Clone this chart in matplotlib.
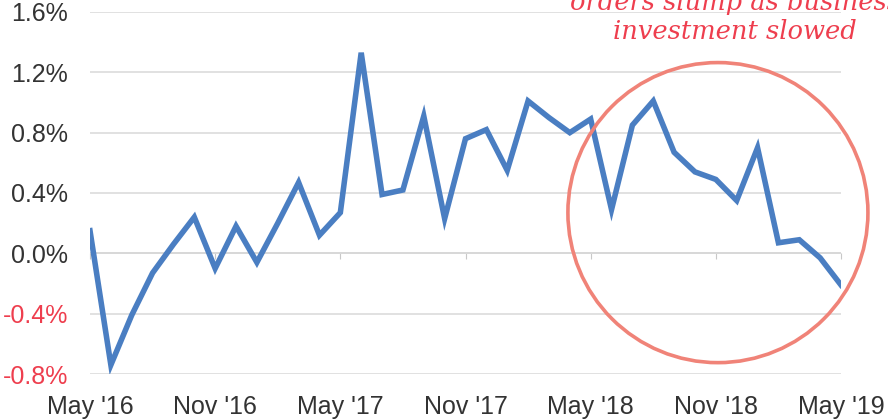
import numpy as np
import matplotlib.pyplot as plt
from matplotlib.patches import Ellipse

# monthly % change, May 2016 .. May 2019
months = ["May '16", "Jun '16", "Jul '16", "Aug '16", "Sep '16", "Oct '16",
          "Nov '16", "Dec '16", "Jan '17", "Feb '17", "Mar '17", "Apr '17",
          "May '17", "Jun '17", "Jul '17", "Aug '17", "Sep '17", "Oct '17",
          "Nov '17", "Dec '17", "Jan '18", "Feb '18", "Mar '18", "Apr '18",
          "May '18", "Jun '18", "Jul '18", "Aug '18", "Sep '18", "Oct '18",
          "Nov '18", "Dec '18", "Jan '19", "Feb '19", "Mar '19", "Apr '19",
          "May '19"]
values = [0.15, -0.74, -0.41, -0.13, 0.06, 0.24,
          -0.10, 0.18, -0.06, 0.20, 0.47, 0.12,
          0.27, 1.33, 0.39, 0.42, 0.91, 0.23,
          0.76, 0.82, 0.55, 1.01, 0.90, 0.80,
          0.89, 0.29, 0.85, 1.01, 0.67, 0.54,
          0.49, 0.35, 0.70, 0.07, 0.09, -0.03,
          -0.21]
yticks = [-0.8, -0.4, 0.0, 0.4, 0.8, 1.2, 1.6]
xtick_idx = [0, 6, 12, 18, 24, 30, 36]

blue = '#4A7EC2'
red = '#EE3E4E'
grey_txt = '#333333'

fig = plt.figure(figsize=(8.88, 4.2), dpi=100)
ax = fig.add_axes([90/888, 46/420, 751/888, 362/420])

x = np.arange(len(values))
ax.plot(x, values, color=blue, lw=4, solid_joinstyle='miter', zorder=3)

ax.set_xlim(0, 36)
ax.set_ylim(-0.8, 1.6)
ax.set_yticks(yticks)
ax.set_yticklabels([f'{v:.1f}%' for v in yticks])
for lab, v in zip(ax.get_yticklabels(), yticks):
    lab.set_color(red if v < 0 else grey_txt)
ax.set_xticks(xtick_idx)
ax.set_xticklabels([months[i] for i in xtick_idx], color=grey_txt)

ax.tick_params(axis='both', length=0, labelsize=18)
ax.tick_params(axis='y', pad=16)
ax.tick_params(axis='x', pad=15)
for lab in ax.get_xticklabels() + ax.get_yticklabels():
    lab.set_fontfamily('Liberation Sans')

for s in ax.spines.values():
    s.set_visible(False)
ax.grid(axis='y', color='#DCDCDC', lw=1.2)
ax.axhline(0, color='#C8C8C8', lw=1.4, zorder=1)

# small category ticks on the zero line
sec = ax.secondary_xaxis(0.8 / 2.4)
sec.set_xticks(xtick_idx)
sec.set_xticklabels([])
sec.tick_params(length=4, color='#C8C8C8', direction='out')
sec.spines['bottom'].set_visible(False)

# highlight circle (round in pixels)
circ = Ellipse((30.1, 0.27), width=300/20.86, height=300/150.8,
               fill=False, ec='#F08378', lw=2.6, clip_on=False, zorder=4)
ax.add_patch(circ)

# annotation runs off the top edge, as in the source image
fig.text(735/888, 1 - 39/420, 'orders slump as business\ninvestment slowed',
         ha='center', va='baseline', multialignment='center',
         color=red, fontsize=18.5, style='italic', family='DejaVu Serif',
         linespacing=1.2)

fig.savefig('out.png', dpi=100)
